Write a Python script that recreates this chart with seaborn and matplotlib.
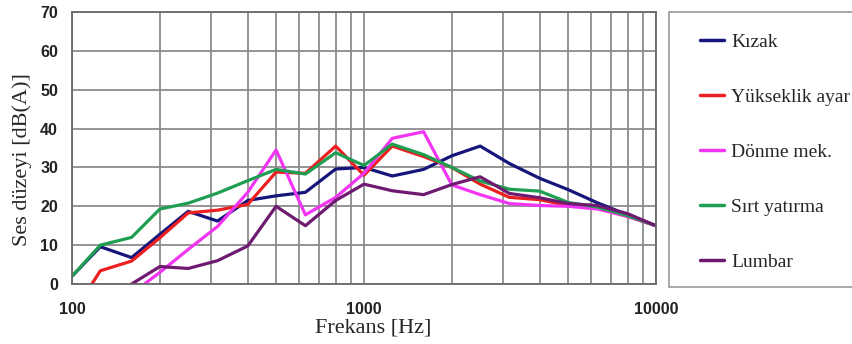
import numpy as np
import pandas as pd
import matplotlib
matplotlib.use("Agg")
import matplotlib.pyplot as plt
from matplotlib.patches import Rectangle
from matplotlib.lines import Line2D
import seaborn as sns

# 1/3 octave band centres [Hz]
freqs = [100, 125, 160, 200, 250, 315, 400, 500, 630, 800, 1000,
         1250, 1600, 2000, 2500, 3150, 4000, 5000, 6300, 8000, 10000]

kizak = [2, 9.6, 6.8, 12.8, 18.7, 16.2, 21.5, 22.7, 23.6, 29.6, 30,
         27.8, 29.5, 33, 35.5, 31, 27.2, 24.3, 20.9, 17.8, 15]
yukseklik = [-8, 3.4, 5.9, 11.9, 18.3, 19, 20.5, 28.8, 28.5, 35.5, 28,
             35.5, 32.8, 30, 25.7, 22.3, 21.7, 20.2, 19.6, 17.4, 15]
donme = [np.nan, np.nan, -2.5, 3, 8.9, 14.8, 23.6, 34.5, 17.8, 22.3, 28.5,
         37.5, 39.2, 25.5, 23, 20.7, 20.2, 20, 19.3, 17.4, 15]
sirt = [2, 10, 12, 19.3, 20.8, 23.4, 26.6, 29.5, 28.3, 33.8, 30.5,
        36, 33.3, 30, 26.5, 24.4, 23.9, 21, 19.8, 17.6, 15]
lumbar = [np.nan, np.nan, 0, 4.5, 4, 6, 9.8, 20, 15, 21.5, 25.7,
          24, 23, 25.6, 27.6, 23.3, 22.2, 20.7, 20.2, 18.1, 15]

names = ["Kızak", "Yükseklik ayar", "Dönme mek.", "Sırt yatırma", "Lumbar"]
colors = ["#16167a", "#ec2020", "#f235f2", "#1f9e52", "#6e1a70"]

rows = []
for name, vals in zip(names, [kizak, yukseklik, donme, sirt, lumbar]):
    for f, v in zip(freqs, vals):
        if not np.isnan(v):
            rows.append({"Frekans": f, "Ses": v, "Kaynak": name})
df = pd.DataFrame(rows)

sns.set_style("white")
fig = plt.figure(figsize=(8.53, 3.44), dpi=100)
ax = fig.add_axes([0.0844, 0.1744, 0.6846, 0.7906])

sns.lineplot(data=df, x="Frekans", y="Ses", hue="Kaynak", hue_order=names,
             palette=colors, linewidth=2.3, ax=ax, legend=False, sort=True)

ax.set_xscale("log")
ax.set_xlim(100, 10000)
ax.set_ylim(0, 70)
ax.set_yticks(range(0, 71, 10))
ax.set_xticks([100, 1000, 10000])
ax.set_xticklabels(["100", "1000", "10000"])
ax.xaxis.set_minor_formatter(matplotlib.ticker.NullFormatter())

ax.grid(True, which="both", color="#8c8c8c", linewidth=1.3)
ax.set_axisbelow(True)
for s in ax.spines.values():
    s.set_color("#6a6a6a")
    s.set_linewidth(1.3)

ax.tick_params(axis="both", which="major", direction="out", length=5,
               width=1.2, color="#6a6a6a")
ax.tick_params(axis="x", which="minor", length=0)
ax.tick_params(axis="x", pad=8)
ax.tick_params(axis="y", pad=5)
for lab in ax.get_xticklabels() + ax.get_yticklabels():
    lab.set_fontweight("bold")
    lab.set_family("Liberation Sans")
    lab.set_fontsize(11.5)
    lab.set_color("#222222")

ax.set_xlabel("Frekans [Hz]", family="Liberation Serif", fontsize=16)
ax.set_ylabel("Ses düzeyi [dB(A)]", family="Liberation Serif", fontsize=16)
ax.xaxis.set_label_coords(0.516, -0.126)
ax.yaxis.set_label_coords(-0.068, 0.458)

# legend box (runs off the right edge like the original)
fig.patches.append(Rectangle((669 / 853, 1 - 287 / 344), 0.3, 275 / 344,
                             transform=fig.transFigure, facecolor="white",
                             edgecolor="#9a9a9a", linewidth=1.2, zorder=0))

handles = [Line2D([], [], color=c, linewidth=2.5) for c in colors]
leg = fig.legend(handles, names, loc="upper left",
                 bbox_to_anchor=(700 / 853, 1 - 33 / 344),
                 frameon=False,
                 prop={"family": "Liberation Serif", "size": 14},
                 handlelength=1.25, handletextpad=0.35, labelspacing=1.93,
                 borderpad=0, borderaxespad=0)

fig.savefig("out.png", dpi=100)
